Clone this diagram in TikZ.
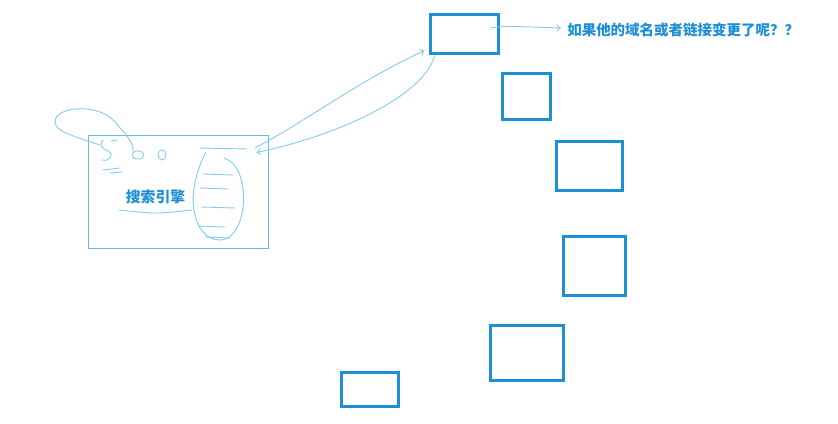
\documentclass[tikz,border=0pt]{standalone}
\usepackage{fontspec}
\newfontfamily\cjk{Noto Sans CJK SC}
\usepackage{tikz}
\usetikzlibrary{arrows.meta, positioning, calc}
\definecolor{boxblue}{HTML}{1E8FD5}
\definecolor{pen}{HTML}{86CBEC}
\definecolor{framec}{HTML}{6BB7E3}
\tikzset{
  blk/.style={draw=boxblue, line width=2.3pt, inner sep=0pt, outer sep=0pt},
  sketch/.style={draw=pen, line width=0.65pt, line cap=round, line join=round},
  tip/.style={-{To[length=3pt,width=5pt]}},
}

\begin{document}
\begin{tikzpicture}[x=0.025cm,y=-0.025cm]
			\useasboundingbox (0,0) rectangle (838,423);
			% search engine sketch
			\node[draw=framec, line width=0.6pt, minimum width=4.5cm, minimum height=2.825cm, inner sep=0pt] (search) at (178,191.5) {};
			\node (label) at (155.5,197) {\cjk\bfseries\color{boxblue}\fontsize{10.5}{12}\selectfont 搜索引擎};
			\draw[sketch] ($(label.south west)+(-2,1)$) .. controls ($(label.south)+(0,5)$) .. ($(label.south east)+(2,1)$);
			% the loop and the scribbled letters
			\draw[sketch] (100,145) .. controls (70,135) and (50,130) .. (56,118)
				.. controls (62,106) and (100,104) .. (115,122) .. controls (125,134) and (134,142) .. (133,152);
			\draw[sketch] (103,140) .. controls (98,145) and (104,150) .. (108,151) .. controls (115,154) and (110,162) .. (102,160);
			\draw[sketch] (111,141) -- (117,140);
			\draw[sketch] (138,155) ellipse (6 and 4);
			\draw[sketch] (162,155) ellipse (4 and 5);
			\draw[sketch] (103,170) -- (120,168);
			\draw[sketch] (110,173) -- (122,172);
			% oval
			\draw[sketch] (200,148) -- (247,149);
			\draw[sketch] (206,152) .. controls (196,170) and (191,195) .. (194,210)
				.. controls (197,230) and (208,240) .. (220,240) .. controls (238,240) and (246,210) .. (243,190)
				.. controls (241,172) and (235,162) .. (224,158);
			\foreach \ya/\xa/\xb in {174/203/233, 188/200/228, 207/201/235, 226/198/225, 237/205/230}
				\draw[sketch] (\xa,\ya) -- (\xb,\ya+1);
			% the pages
			\node[blk, minimum width=1.7cm, minimum height=0.975cm] (b1) at (464.5,34) {};
			\node[blk, minimum width=1.2cm, minimum height=1.15cm] (b2) at (526.5,96.5) {};
			\node[blk, minimum width=1.65cm, minimum height=1.225cm] (b3) at (589.5,166) {};
			\node[blk, minimum width=1.55cm, minimum height=1.475cm] (b4) at (594.5,266) {};
			\node[blk, minimum width=1.825cm, minimum height=1.375cm] (b5) at (527,353) {};
			\node[blk, minimum width=1.425cm, minimum height=0.85cm] (b6) at (370,389.5) {};
			\node[anchor=west, inner sep=0pt] (ask) at (567,30) {\cjk\bfseries\color{boxblue}\fontsize{10.3}{12}\selectfont 如果他的域名或者链接变更了呢？？};
			% connectors
			\draw[sketch, tip] ($(search.north east)+(-13,13)$) .. controls (300,125) and (360,80) .. ($(b1.south west)+(-6,-3)$);
			\draw[sketch, tip] ($(b1.south west)+(4,2)$) .. controls (425,95) and (340,135) .. ($(search.north east)+(-12,18)$);
			\draw[sketch, tip] ($(b1.east)+(-8,-6)$) .. controls (505,26) .. ($(ask.west)+(-6,-2)$);
		\end{tikzpicture}
\end{document}
